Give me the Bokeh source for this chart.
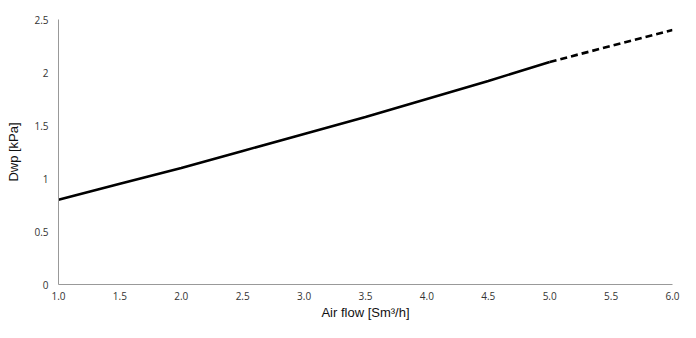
from bokeh.plotting import figure
from bokeh.models import FixedTicker, Range1d
from bokeh.embed import file_html
from bokeh.resources import INLINE

# data
flow_solid = [1.0, 1.5, 2.0, 2.5, 3.0, 3.5, 4.0, 4.5, 5.0]
dwp_solid = [0.80, 0.95, 1.10, 1.26, 1.42, 1.58, 1.75, 1.92, 2.10]
flow_dash = [5.0, 5.5, 6.0]
dwp_dash = [2.10, 2.25, 2.40]

x_ticks = [1.0, 1.5, 2.0, 2.5, 3.0, 3.5, 4.0, 4.5, 5.0, 5.5, 6.0]
x_tick_labels = ["1.0", "1.5", "2.0", "2.5", "3.0", "3.5", "4.0", "4.5", "5.0", "5.5", "6.0"]
y_ticks = [0, 0.5, 1, 1.5, 2, 2.5]
y_tick_labels = ["0", "0.5", "1", "1.5", "2", "2.5"]

p = figure(width=680, height=322, output_backend="svg", toolbar_location=None,
           x_range=Range1d(1.0, 6.0), y_range=Range1d(0, 2.5),
           min_border_left=58, min_border_right=8, min_border_top=19, min_border_bottom=36)
p.outline_line_color = None
p.xgrid.visible = False
p.ygrid.visible = False

p.line(flow_solid, dwp_solid, line_color="black", line_width=2.6)
p.line(flow_dash, dwp_dash, line_color="black", line_width=2.6, line_dash="7 4")

for ax in (p.xaxis[0], p.yaxis[0]):
    ax.axis_line_color = "#999999"
    ax.axis_line_width = 1
    ax.major_tick_line_color = None
    ax.minor_tick_line_color = None
    ax.major_tick_out = 0
    ax.major_tick_in = 0
    ax.minor_tick_out = 0
    ax.minor_tick_in = 0
    ax.major_label_text_font = "Open Sans"
    ax.major_label_text_font_size = "10px"
    ax.major_label_text_color = "#333333"
    ax.axis_label_text_font = "Liberation Sans"
    ax.axis_label_text_font_size = "13px"
    ax.axis_label_text_font_style = "normal"
    ax.axis_label_text_color = "#111111"

p.xaxis.ticker = FixedTicker(ticks=x_ticks)
p.xaxis.major_label_overrides = {t: l for t, l in zip(x_ticks, x_tick_labels)}
p.yaxis.ticker = FixedTicker(ticks=y_ticks)
p.yaxis.major_label_overrides = {t: l for t, l in zip(y_ticks, y_tick_labels)}
p.xaxis.axis_label = "Air flow [Sm³/h]"
p.yaxis.axis_label = "Dwp [kPa]"
p.xaxis.major_label_standoff = 7
p.yaxis.major_label_standoff = 10
p.xaxis.axis_label_standoff = 2
p.yaxis.axis_label_standoff = 10

open("out.html", "w").write(file_html(p, INLINE))
